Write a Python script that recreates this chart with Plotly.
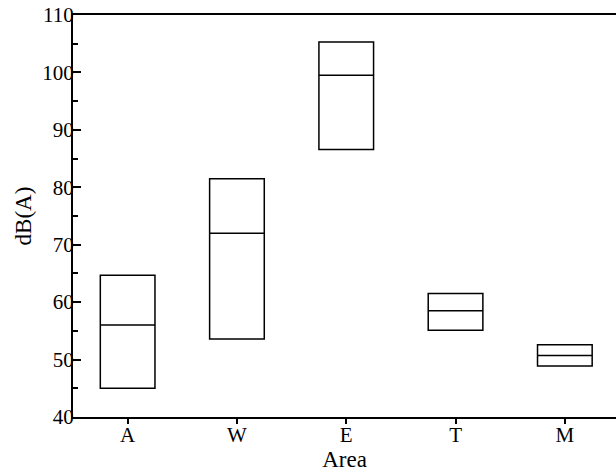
import plotly.graph_objects as go

areas = ["A", "W", "E", "T", "M"]
x_pos = [1, 2, 3, 4, 5]
lows = [45.0, 53.6, 86.6, 55.1, 48.9]
medians = [56.0, 72.0, 99.5, 58.5, 50.7]
highs = [64.7, 81.5, 105.3, 61.5, 52.6]

fig = go.Figure()
fig.add_trace(go.Box(
    x=x_pos,
    q1=lows, median=medians, q3=highs,
    lowerfence=lows, upperfence=highs,
    width=0.5,
    fillcolor="white",
    line=dict(color="black", width=1.5),
    boxpoints=False,
    showlegend=False,
))

font = dict(family="Liberation Serif, Times New Roman, serif", size=21, color="black")
title_font = dict(family="Liberation Serif, Times New Roman, serif", size=23, color="black")

fig.update_layout(
    width=616, height=476,
    margin=dict(l=73, r=0, t=15, b=59),
    paper_bgcolor="white", plot_bgcolor="white",
    font=font,
    xaxis=dict(
        range=[0.5, 5.468],
        tickvals=x_pos, ticktext=areas,
        showline=True, linecolor="black", linewidth=2, mirror=True,
        ticks="outside", ticklen=5, tickwidth=1.5, tickcolor="black",
        ticklabelstandoff=-7, ticklabeloverflow="allow",
        showgrid=False, zeroline=False, automargin=False,
        title=dict(text="Area", standoff=0, font=title_font),
    ),
    yaxis=dict(
        range=[40, 110],
        tickvals=[40, 50, 60, 70, 80, 90, 100, 110],
        showline=True, linecolor="black", linewidth=2,
        ticks="inside", ticklen=8, tickwidth=1.5, tickcolor="black",
        ticklabelstandoff=-7, ticklabeloverflow="allow",
        minor=dict(ticks="inside", ticklen=5, tickwidth=1.5, tickcolor="black", dtick=5, tick0=45),
        showgrid=False, zeroline=False, automargin=False,
        title=dict(text="dB(A)", standoff=4, font=title_font),
    ),
)

fig.write_html("out.html", config={"displayModeBar": False},
               post_script="document.body.style.margin='0';")
